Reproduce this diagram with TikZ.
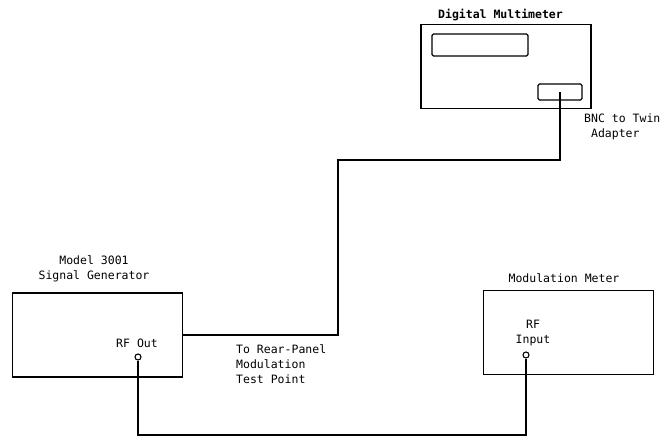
\documentclass[tikz,border=0pt]{standalone}
\usepackage{fontspec}
\setmonofont{DejaVu Sans Mono}
\usepackage{tikz}

\begin{document}
\begin{tikzpicture}[x=1pt,y=-1pt,
    unitBox/.style={draw, line width=1.3pt, minimum width=170pt, minimum height=84pt, inner sep=0pt},
    cable/.style={line width=1.1pt},
    lbl/.style={font=\ttfamily\fontsize{11.5}{15}\selectfont, inner sep=0pt}]
      \useasboundingbox (0,0) rectangle (664,439);

      % instruments
      \node[unitBox] (dmm) at (506,66.5) {};
      \node[unitBox] (gen) at (97.5,335) {};
      \node[unitBox] (modm) at (568.5,332.5) {};

      \node[draw, line width=1.3pt, rounded corners=1.5pt, minimum width=96pt, minimum height=22pt, inner sep=0pt] (display) at (480,45) {};
      \node[draw, line width=1.3pt, rounded corners=1.5pt, minimum width=44pt, minimum height=16pt, inner sep=0pt] (bnc) at (560,92) {};

      \node[circle, draw, line width=1.1pt, minimum size=6pt, inner sep=0pt] (rfout) at (138,357) {};
      \node[circle, draw, line width=1.1pt, minimum size=6pt, inner sep=0pt] (rfin) at (526,355) {};

      % labels
      \node[lbl, font=\ttfamily\bfseries\fontsize{11.5}{15}\selectfont] (dmmname) at (500.5,15) {Digital Multimeter};
      \node[lbl, align=center] (genname) at (94,268.5) {Model 3001\\Signal Generator};
      \node[lbl] (modmname) at (564,278) {Modulation Meter};
      \node[lbl] (rfoutname) at (137,343) {RF Out};
      \node[lbl, align=center] (rfinname) at (533,333.5) {RF\\Input};
      \node[lbl, align=left, anchor=north west] (bncname) at (584,114) {BNC to Twin\\~Adapter};
      \node[lbl, align=left, anchor=north west] (rearname) at (236,344) {To Rear-Panel\\Modulation\\Test Point};

      % cables
      \coordinate (bend) at (338,160);
      \coordinate (low) at (0,435);
      \draw[cable] (bnc.center) |- (bend) -- (bend |- gen.east) -- (gen.east);
      \draw[cable] (rfout.south) -- (rfout.south |- low) -- (rfin.south |- low) -- (rfin.south);
    \end{tikzpicture}
\end{document}
